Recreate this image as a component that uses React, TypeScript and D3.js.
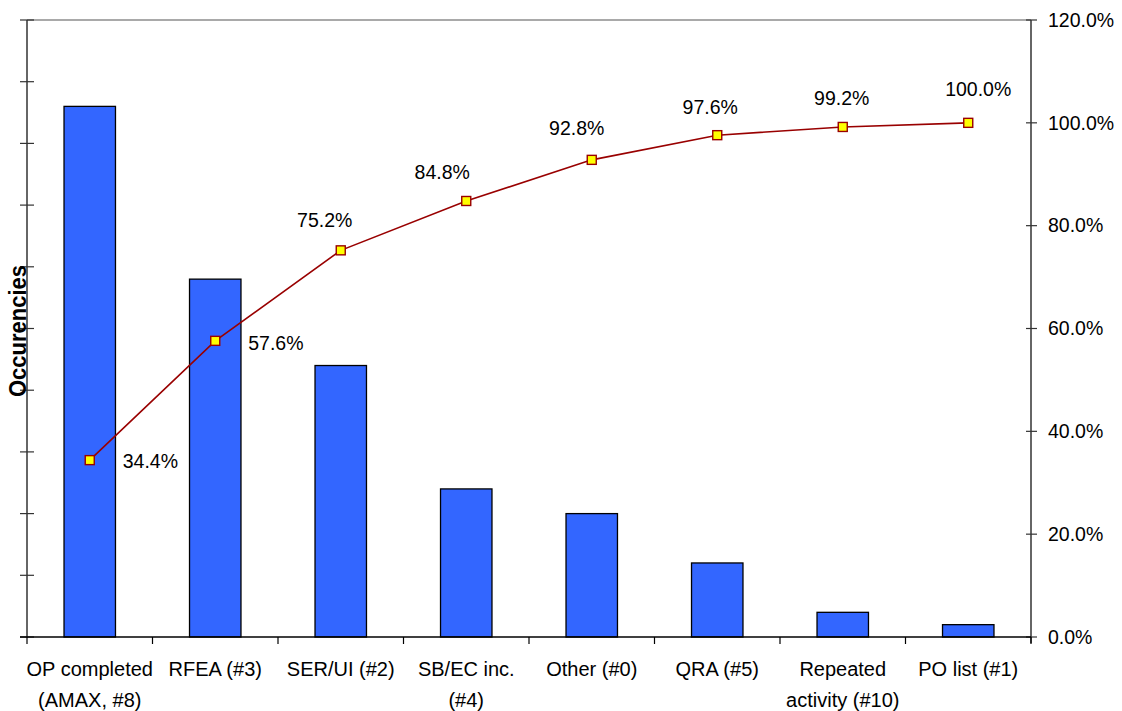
import { useEffect, useRef } from "react";
import * as d3 from "d3";

const categories = [
  ["OP completed", "(AMAX, #8)"],
  ["RFEA (#3)"],
  ["SER/UI (#2)"],
  ["SB/EC inc.", "(#4)"],
  ["Other (#0)"],
  ["QRA (#5)"],
  ["Repeated", "activity (#10)"],
  ["PO list (#1)"],
];
const occurrences = [43, 29, 22, 12, 10, 6, 2, 1];
const cumulativePct = [0.344, 0.576, 0.752, 0.848, 0.928, 0.976, 0.992, 1.0];
const pctTicks = [0, 0.2, 0.4, 0.6, 0.8, 1.0, 1.2];

// where each data label sits relative to its marker (Excel auto placement)
const labelPlacement = [
  { anchor: "start", dx: 33, dy: 8 },
  { anchor: "start", dx: 33, dy: 9 },
  { anchor: "middle", dx: -16, dy: -23 },
  { anchor: "middle", dx: -24, dy: -22 },
  { anchor: "middle", dx: -15, dy: -25 },
  { anchor: "middle", dx: -7, dy: -21 },
  { anchor: "middle", dx: -1, dy: -22 },
  { anchor: "middle", dx: 10, dy: -27 },
];

const width = 1122;
const height = 711;
const plot = { left: 27, right: 1031, top: 20, bottom: 637 };
const font = "'Liberation Sans', Arial, sans-serif";

const App = () => {
  const svgRef = useRef<SVGSVGElement>(null);

  useEffect(() => {
    const svg = d3.select(svgRef.current);
    svg.selectAll("*").remove();

    const keys = categories.map((c) => c.join(" "));
    const x = d3
      .scaleBand()
      .domain(keys)
      .range([plot.left, plot.right])
      .paddingInner(0.59)
      .paddingOuter(0.295);
    const step = x.step();
    const yCount = d3.scaleLinear().domain([0, 50]).range([plot.bottom, plot.top]);
    const yPct = d3.scaleLinear().domain([0, 1.2]).range([plot.bottom, plot.top]);
    const cx = (i: number) => (x(keys[i]) ?? 0) + x.bandwidth() / 2;

    // top border of plot area
    svg
      .append("line")
      .attr("x1", plot.left)
      .attr("x2", plot.right)
      .attr("y1", plot.top)
      .attr("y2", plot.top)
      .attr("stroke", "#8c8c8c")
      .attr("stroke-width", 1.5);

    // bars
    svg
      .append("g")
      .selectAll("rect")
      .data(occurrences)
      .join("rect")
      .attr("x", (d, i) => x(keys[i]) ?? 0)
      .attr("y", (d) => yCount(d))
      .attr("width", x.bandwidth())
      .attr("height", (d) => yCount(0) - yCount(d))
      .attr("fill", "#3366ff")
      .attr("stroke", "#000")
      .attr("stroke-width", 1.3);

    // left axis (no labels)
    const left = svg.append("g").attr("stroke", "#333");
    left
      .append("line")
      .attr("x1", plot.left)
      .attr("x2", plot.left)
      .attr("y1", plot.top)
      .attr("y2", plot.bottom)
      .attr("stroke-width", 1.5);
    left
      .selectAll("line.tick")
      .data(yCount.ticks(10))
      .join("line")
      .attr("class", "tick")
      .attr("x1", plot.left - 7)
      .attr("x2", plot.left + 7)
      .attr("y1", (d) => yCount(d))
      .attr("y2", (d) => yCount(d))
      .attr("stroke-width", 1.2);

    // right axis
    const right = svg.append("g");
    right
      .append("line")
      .attr("x1", plot.right)
      .attr("x2", plot.right)
      .attr("y1", plot.top)
      .attr("y2", plot.bottom + 6)
      .attr("stroke", "#333")
      .attr("stroke-width", 1.5);
    right
      .selectAll("line.tick")
      .data(pctTicks)
      .join("line")
      .attr("class", "tick")
      .attr("x1", plot.right - 5)
      .attr("x2", plot.right + 6)
      .attr("y1", (d) => yPct(d))
      .attr("y2", (d) => yPct(d))
      .attr("stroke", "#333")
      .attr("stroke-width", 1.2);
    right
      .selectAll("text")
      .data(pctTicks)
      .join("text")
      .attr("x", plot.right + 17)
      .attr("y", (d) => yPct(d))
      .attr("dy", "0.35em")
      .attr("font-family", font)
      .attr("font-size", 19.5)
      .attr("fill", "#000")
      .text((d) => d3.format(".1%")(d));

    // bottom axis
    const bottom = svg.append("g").attr("stroke", "#000");
    bottom
      .append("line")
      .attr("x1", plot.left - 7)
      .attr("x2", plot.right)
      .attr("y1", plot.bottom)
      .attr("y2", plot.bottom)
      .attr("stroke-width", 1.5);
    bottom
      .selectAll("line.tick")
      .data(d3.range(keys.length + 1))
      .join("line")
      .attr("class", "tick")
      .attr("x1", (i) => plot.left + i * step)
      .attr("x2", (i) => plot.left + i * step)
      .attr("y1", plot.bottom)
      .attr("y2", plot.bottom + 7)
      .attr("stroke-width", 1.2);

    svg
      .append("g")
      .selectAll("text")
      .data(categories)
      .join("text")
      .attr("text-anchor", "middle")
      .attr("font-family", font)
      .attr("font-size", 20)
      .attr("fill", "#000")
      .each(function (lines, i) {
        d3.select(this)
          .selectAll("tspan")
          .data(lines)
          .join("tspan")
          .attr("x", cx(i))
          .attr("y", (d, j) => 676 + j * 31)
          .text((d) => d);
      });

    // cumulative line
    const line = d3
      .line<number>()
      .x((d, i) => cx(i))
      .y((d) => yPct(d));
    svg
      .append("path")
      .datum(cumulativePct)
      .attr("d", line)
      .attr("fill", "none")
      .attr("stroke", "#990000")
      .attr("stroke-width", 1.6);
    svg
      .append("g")
      .selectAll("rect")
      .data(cumulativePct)
      .join("rect")
      .attr("x", (d, i) => cx(i) - 4.5)
      .attr("y", (d) => yPct(d) - 4.5)
      .attr("width", 9)
      .attr("height", 9)
      .attr("fill", "#ffff00")
      .attr("stroke", "#990000")
      .attr("stroke-width", 1.4);

    svg
      .append("g")
      .selectAll("text")
      .data(cumulativePct)
      .join("text")
      .attr("x", (d, i) => cx(i) + labelPlacement[i].dx)
      .attr("y", (d, i) => yPct(d) + labelPlacement[i].dy)
      .attr("text-anchor", (d, i) => labelPlacement[i].anchor)
      .attr("font-family", font)
      .attr("font-size", 19.5)
      .attr("fill", "#000")
      .text((d) => d3.format(".1%")(d));

    // axis title
    svg
      .append("text")
      .attr("transform", `translate(26, 331) rotate(-90)`)
      .attr("text-anchor", "middle")
      .attr("font-family", font)
      .attr("font-size", 24)
      .attr("font-weight", "bold")
      .attr("fill", "#000")
      .attr("textLength", 132)
      .attr("lengthAdjust", "spacingAndGlyphs")
      .text("Occurencies");
  }, []);

  return (
    <div style={{ position: "fixed", left: 0, top: 0, background: "#fff" }}>
      <svg ref={svgRef} width={width} height={height} style={{ display: "block" }} />
    </div>
  );
};

export default App;
